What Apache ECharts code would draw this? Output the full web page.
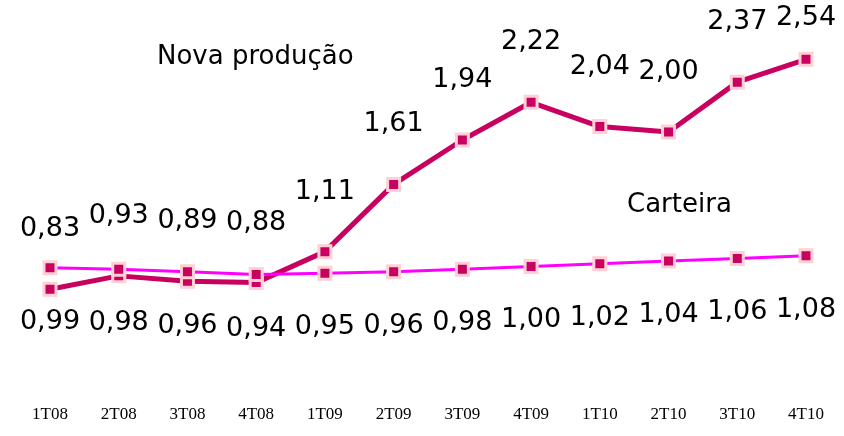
<!DOCTYPE html>
<html>
<head>
<meta charset="utf-8">
<script src="https://cdn.jsdelivr.net/npm/echarts@6/dist/echarts.min.js"></script>
<style>
  html, body { margin: 0; padding: 0; background: #fff; }
  #chart { width: 844px; height: 436px; }
</style>
</head>
<body>
<div id="chart"></div>
<script>
// 数据
var quarters = ['1T08', '2T08', '3T08', '4T08', '1T09', '2T09', '3T09', '4T09', '1T10', '2T10', '3T10', '4T10'];
var novaProducao = [0.83, 0.93, 0.89, 0.88, 1.11, 1.61, 1.94, 2.22, 2.04, 2.00, 2.37, 2.54];
var carteira = [0.99, 0.98, 0.96, 0.94, 0.95, 0.96, 0.98, 1.00, 1.02, 1.04, 1.06, 1.08];

var labelFont = 'DejaVu Sans';

function fmt(v) {
    return v.toFixed(2).replace('.', ',');
}

var markerStyle = {
    color: '#c8005f',
    borderColor: '#ffd0d6',
    borderWidth: 3
};

var myChart = echarts.init(document.getElementById('chart'));

var options = {
    animation: false,
    grid: {
        left: 50,
        right: 38,
        top: 31,
        bottom: 35
    },
    xAxis: {
        type: 'category',
        data: quarters,
        boundaryGap: false,
        axisLine: { show: false },
        axisTick: { show: false },
        axisLabel: {
            color: '#000',
            fontFamily: 'Liberation Serif',
            fontSize: 17,
            margin: 5
        }
    },
    yAxis: {
        type: 'value',
        min: 0,
        max: 2.75,
        show: false,
        splitLine: { show: false }
    },
    graphic: [
        {
            type: 'text',
            left: 157,
            top: 44,
            style: { text: 'Nova produção', fontFamily: labelFont, fontSize: 26, fill: '#000' }
        },
        {
            type: 'text',
            left: 627,
            top: 192,
            style: { text: 'Carteira', fontFamily: labelFont, fontSize: 26, fill: '#000' }
        }
    ],
    series: [
        {
            name: 'Nova produção',
            type: 'line',
            data: novaProducao.map(function (v, i) {
                // 最后一个点标签贴近顶部
                var item = { value: v };
                if (i === novaProducao.length - 1) item.label = { distance: 20 };
                return item;
            }),
            symbol: 'rect',
            symbolSize: 12,
            lineStyle: { color: '#c8005f', width: 5 },
            itemStyle: markerStyle,
            z: 2,
            label: {
                show: true,
                position: 'top',
                distance: 39,
                color: '#000',
                fontFamily: labelFont,
                fontSize: 27,
                formatter: function (p) { return fmt(p.value); }
            }
        },
        {
            name: 'Carteira',
            type: 'line',
            data: carteira,
            symbol: 'rect',
            symbolSize: 12,
            lineStyle: { color: '#ff00ff', width: 3 },
            itemStyle: markerStyle,
            z: 3,
            label: {
                show: true,
                position: 'bottom',
                distance: 33,
                color: '#000',
                fontFamily: labelFont,
                fontSize: 27,
                formatter: function (p) { return fmt(p.value); }
            }
        }
    ]
};

myChart.setOption(options);
</script>
</body>
</html>
